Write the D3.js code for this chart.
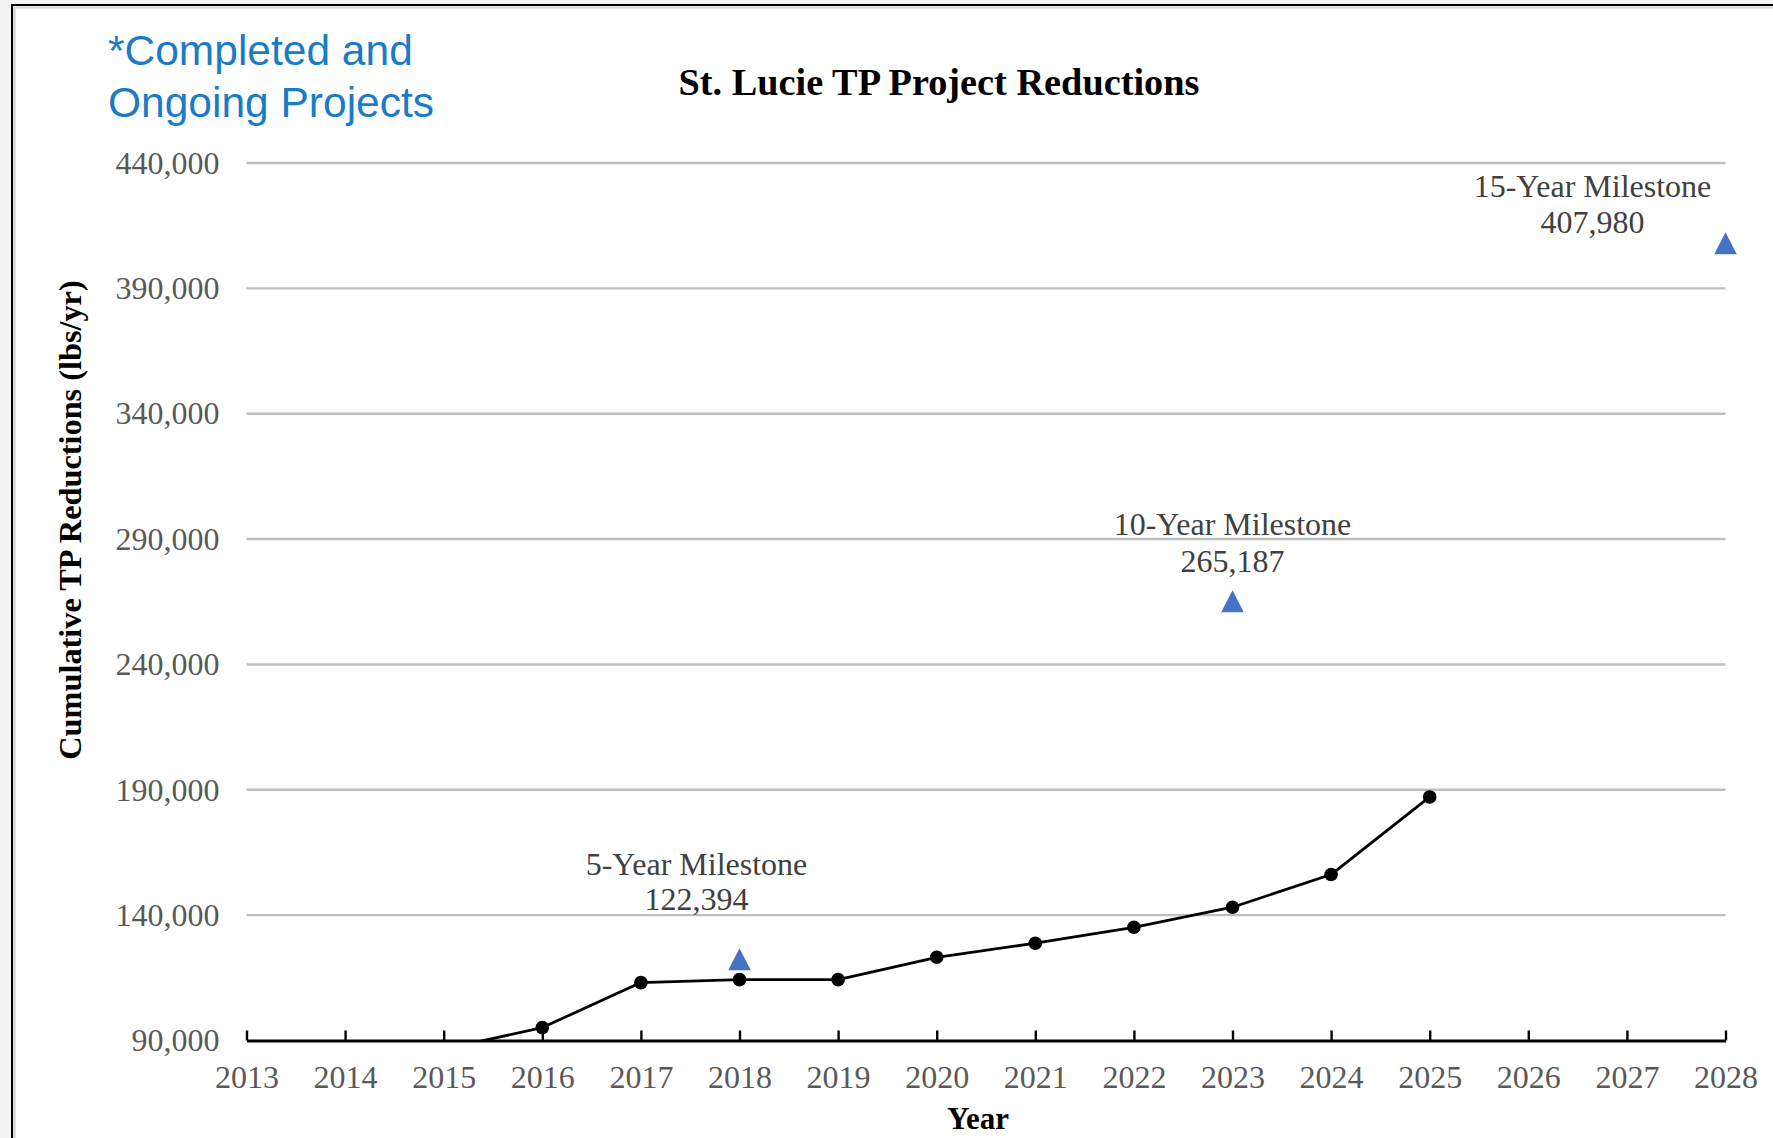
<!DOCTYPE html>
<html>
<head>
<meta charset="utf-8">
<script src="https://cdn.jsdelivr.net/npm/d3@7"></script>
<style>
  html, body { margin: 0; padding: 0; background: #f3f3f3; }
  svg { display: block; }
</style>
</head>
<body>
<svg id="chart" width="1773" height="1138"></svg>
<script>
// Cumulative TP reductions by year (lbs/yr)
const years = [2015, 2016, 2017, 2018, 2019, 2020, 2021, 2022, 2023, 2024, 2025];
const reductions = [86500, 95150, 113100, 114300, 114300, 123200, 128800, 135150, 143150, 156200, 187150];

// Milestone targets
const milestoneYears = [2018, 2023, 2028];
const milestoneValues = [122394, 265187, 407980];
const milestoneNames = ["5-Year Milestone", "10-Year Milestone", "15-Year Milestone"];

// Axis ticks
const xTickYears = [2013, 2014, 2015, 2016, 2017, 2018, 2019, 2020, 2021, 2022, 2023, 2024, 2025, 2026, 2027, 2028];
const yTickValues = [90000, 140000, 190000, 240000, 290000, 340000, 390000, 440000];

// Label placement relative to each milestone marker (pixels)
const labelOffsets = [
  { dx: -43, dy1: -84, dy2: -49 },
  { dx: 0, dy1: -66, dy2: -29 },
  { dx: -133, dy1: -46, dy2: -10 }
];

const serif = "'Liberation Serif', 'Times New Roman', serif";
const sans = "'Liberation Sans', Arial, sans-serif";

const svg = d3.select("#chart");

// Frame
svg.append("rect").attr("x", 12).attr("y", 5).attr("width", 1800).attr("height", 1200)
  .attr("fill", "#ffffff").attr("stroke", "#000").attr("stroke-width", 2);
svg.append("rect").attr("x", 14.5).attr("y", 7.5).attr("width", 1800).attr("height", 1200)
  .attr("fill", "none").attr("stroke", "#d9d9d9").attr("stroke-width", 2.5);

const x = d3.scaleLinear().domain([2013, 2028]).range([246.5, 1725.5]);
const y = d3.scaleLinear().domain([90000, 440000]).range([1040.5, 163]);

// Gridlines
svg.append("g")
  .selectAll("line")
  .data(yTickValues.filter(v => v > 90000))
  .join("line")
  .attr("x1", x(2013)).attr("x2", x(2028))
  .attr("y1", d => y(d)).attr("y2", d => y(d))
  .attr("stroke", "#bfbfbf").attr("stroke-width", 2.4);

// Y axis labels
const yAxis = d3.axisLeft(y).tickValues(yTickValues).tickSize(0).tickPadding(0).tickFormat(d3.format(","));
const gy = svg.append("g").attr("transform", `translate(${x(2013) - 27},0)`).call(yAxis);
gy.select(".domain").remove();
gy.selectAll("text")
  .attr("font-family", serif).attr("font-size", 32).attr("fill", "#595959")
  .attr("dy", "0.32em");

// Data line, clipped to the plot area
svg.append("clipPath").attr("id", "plotClip")
  .append("rect").attr("x", x(2013)).attr("y", 0)
  .attr("width", x(2028) - x(2013) + 20).attr("height", y(90000));

const series = years.map((yr, i) => ({ year: yr, value: reductions[i] }));
const plot = svg.append("g").attr("clip-path", "url(#plotClip)");
plot.append("path")
  .datum(series)
  .attr("fill", "none").attr("stroke", "#000").attr("stroke-width", 2.8)
  .attr("stroke-linejoin", "round")
  .attr("d", d3.line().x(d => x(d.year)).y(d => y(d.value)));
plot.selectAll("circle")
  .data(series)
  .join("circle")
  .attr("cx", d => x(d.year)).attr("cy", d => y(d.value)).attr("r", 6.8)
  .attr("fill", "#000");

// X axis
const xAxis = d3.axisBottom(x).tickValues(xTickYears).tickSize(0).tickPadding(0).tickFormat(d3.format("d"));
const gx = svg.append("g").attr("transform", `translate(0,${y(90000)})`).call(xAxis);
gx.select(".domain").attr("stroke", "#000").attr("stroke-width", 2.8);
gx.selectAll("text")
  .attr("font-family", serif).attr("font-size", 32).attr("fill", "#595959")
  .attr("y", 47).attr("dy", 0);
gx.selectAll(".tick").append("line")
  .attr("y1", 0).attr("y2", -10).attr("stroke", "#000").attr("stroke-width", 2.4);

// Milestone markers and labels
const milestones = milestoneYears.map((yr, i) => ({
  year: yr, value: milestoneValues[i], name: milestoneNames[i], off: labelOffsets[i]
}));
const triangle = "M0,-11 L11.3,11 L-11.3,11 Z";
const ms = svg.append("g").selectAll("g").data(milestones).join("g")
  .attr("transform", d => `translate(${x(d.year)},${y(d.value)})`);
ms.append("path").attr("d", triangle).attr("fill", "#4472c4");
ms.append("text")
  .attr("x", d => d.off.dx).attr("y", d => d.off.dy1)
  .attr("text-anchor", "middle")
  .attr("font-family", serif).attr("font-size", 32).attr("fill", "#404040")
  .text(d => d.name);
ms.append("text")
  .attr("x", d => d.off.dx).attr("y", d => d.off.dy2)
  .attr("text-anchor", "middle")
  .attr("font-family", serif).attr("font-size", 32).attr("fill", "#404040")
  .text(d => d3.format(",")(d.value));

// Titles
svg.append("text")
  .attr("x", 939).attr("y", 95).attr("text-anchor", "middle")
  .attr("font-family", serif).attr("font-size", 38.3).attr("font-weight", "bold").attr("fill", "#000")
  .text("St. Lucie TP Project Reductions");

svg.append("text")
  .attr("x", 978).attr("y", 1129).attr("text-anchor", "middle")
  .attr("font-family", serif).attr("font-size", 31).attr("font-weight", "bold").attr("fill", "#000")
  .text("Year");

svg.append("text")
  .attr("transform", "translate(81,520) rotate(-90)")
  .attr("text-anchor", "middle")
  .attr("font-family", serif).attr("font-size", 32.3).attr("font-weight", "bold").attr("fill", "#000")
  .text("Cumulative TP Reductions (lbs/yr)");

// Note
const note = svg.append("text")
  .attr("font-family", sans).attr("font-size", 42.5).attr("fill", "#1a7bc6");
note.append("tspan").attr("x", 108).attr("y", 65).text("*Completed and");
note.append("tspan").attr("x", 108).attr("y", 117).text("Ongoing Projects");
</script>
</body>
</html>
